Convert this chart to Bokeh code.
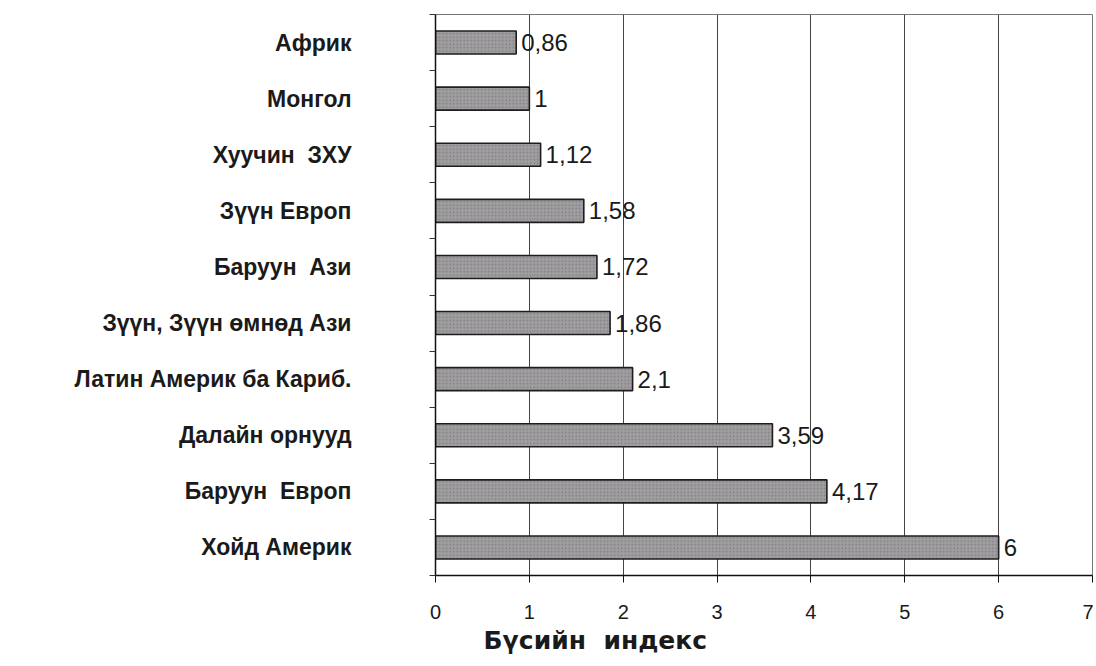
from bokeh.plotting import figure
from bokeh.models import ColumnDataSource, Range1d, FixedTicker, Title
from bokeh.core.properties import value
from bokeh.embed import file_html
from bokeh.resources import INLINE

NB = "\u00a0"
# Data (top to bottom)
regions = ["Африк", "Монгол", "Хуучин " + NB + "ЗХУ", "Зүүн Европ", "Баруун " + NB + "Ази",
           "Зүүн, Зүүн өмнөд Ази", "Латин Америк ба Кариб.", "Далайн орнууд",
           "Баруун " + NB + "Европ", "Хойд Америк"]
index_values = [0.86, 1.0, 1.12, 1.58, 1.72, 1.86, 2.1, 3.59, 4.17, 6.0]
value_labels = ["0,86", "1", "1,12", "1,58", "1,72", "1,86", "2,1", "3,59", "4,17", "6"]
x_ticks = [0, 1, 2, 3, 4, 5, 6, 7]
x_title = "Бүсийн " + NB + "индекс"

n = len(regions)
centers = [n - i - 0.5 for i in range(n)]

src = ColumnDataSource(dict(y=centers, v=index_values, lbl=value_labels, name=regions))

p = figure(frame_width=657, frame_height=561, output_backend="svg", toolbar_location=None,
           x_range=Range1d(0, 7), y_range=Range1d(0, n),
           min_border_left=435, min_border_right=1, min_border_top=14, min_border_bottom=10)

p.background_fill_color = "white"
p.border_fill_color = "white"
p.outline_line_color = "#777777"
p.outline_line_width = 1

p.hbar(y="y", right="v", left=0, height=0.41, source=src,
       fill_color="#a19ea1", line_color="#1e1e1e", line_width=1.6,
       hatch_pattern="dot", hatch_color="#626060", hatch_scale=3.5, hatch_alpha=0.55)

p.text(x="v", y="y", text="lbl", source=src, x_offset=5, text_baseline="middle",
       text_align="left", text_font=value("Liberation Sans"), text_font_size="24px",
       text_color="#1a1a1a")

# x axis
xa = p.xaxis[0]
xa.ticker = FixedTicker(ticks=x_ticks, minor_ticks=[])
xa.axis_line_color = "#111111"
xa.axis_line_width = 1.5
xa.major_tick_out = 7
xa.major_tick_in = 0
xa.major_tick_line_color = "#111111"
xa.minor_tick_line_color = None
xa.major_label_standoff = 22
xa.major_label_text_font = "Liberation Sans"
xa.major_label_text_font_size = "20px"
xa.major_label_text_color = "#1a1a1a"

# y axis
ya = p.yaxis[0]
ya.ticker = FixedTicker(ticks=centers, minor_ticks=list(range(0, n + 1)))
ya.major_label_overrides = {c: r for c, r in zip(centers, regions)}
ya.axis_line_color = "#111111"
ya.axis_line_width = 1.5
ya.major_tick_out = 0
ya.major_tick_in = 0
ya.minor_tick_out = 6
ya.minor_tick_in = 0
ya.minor_tick_line_color = "#333333"
ya.major_label_standoff = 78
ya.major_label_text_font = "Liberation Sans"
ya.major_label_text_font_style = "bold"
ya.major_label_text_font_size = "23px"
ya.major_label_text_color = "#1a1a1a"

p.xgrid.ticker = FixedTicker(ticks=x_ticks)
p.xgrid.grid_line_color = "#444444"
p.xgrid.grid_line_width = 1
p.ygrid.grid_line_color = None

t = Title(text=x_title, align="left", offset=48, text_font="DejaVu Sans",
          text_font_style="bold", text_font_size="25px", text_color="#1a1a1a", standoff=4)
p.add_layout(t, "below")

open("out.html", "w").write(file_html(p, INLINE))
